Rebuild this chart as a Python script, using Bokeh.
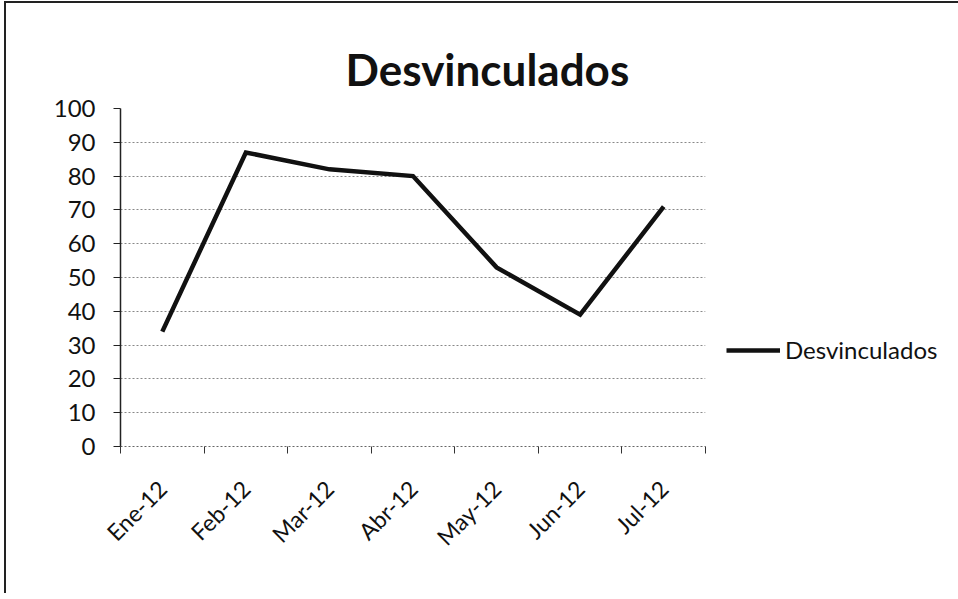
import math
from bokeh.plotting import figure
from bokeh.models import (Range1d, FixedTicker, CustomJSTickFormatter,
                          Legend, LegendItem, Title, ColumnDataSource)
from bokeh.embed import file_html
from bokeh.resources import INLINE

months = ["Ene-12", "Feb-12", "Mar-12", "Abr-12", "May-12", "Jun-12", "Jul-12"]
desvinculados = [34, 87, 82, 80, 53, 39, 71]
series_name = "Desvinculados"
y_ticks = list(range(0, 101, 10))

xs = [i + 0.5 for i in range(len(months))]
src = ColumnDataSource(dict(x=xs, y=desvinculados, m=months))

p = figure(frame_width=585, frame_height=338, output_backend="svg", toolbar_location=None,
           x_range=Range1d(0, len(months)), y_range=Range1d(0, 100),
           min_border_left=114, min_border_right=0, min_border_top=105, min_border_bottom=147)
p.title = None
p.outline_line_color = None
p.background_fill_color = "white"
p.border_fill_color = "white"
p.styles = {"border-left": "2px solid #222", "border-top": "2px solid #222",
            "margin-left": "4px", "margin-top": "1px"}

t = Title(text="Desvinculados", align="left", offset=225, text_font="Lato",
          text_font_size="44px", text_font_style="bold", text_color="#111", standoff=28)
p.add_layout(t, "above")

r = p.line("x", "y", source=src, line_color="#111", line_width=4.5, line_join="miter")

# y axis
p.yaxis.ticker = FixedTicker(ticks=y_ticks)
p.yaxis.major_label_text_font = "Lato"
p.yaxis.major_label_text_font_size = "24px"
p.yaxis.major_label_text_color = "#111"
p.yaxis.axis_line_color = "#222"
p.yaxis.axis_line_width = 1.5
p.yaxis.major_tick_line_color = "#222"
p.yaxis.major_tick_out = 7
p.yaxis.major_tick_in = 0
p.yaxis.minor_tick_line_color = None
p.yaxis.major_label_standoff = 18

# x axis
p.xaxis.ticker = FixedTicker(ticks=xs, minor_ticks=list(range(len(months) + 1)))
p.xaxis.formatter = CustomJSTickFormatter(args=dict(labels=months),
                                          code="return labels[Math.round(tick - 0.5)] || '';")
p.xaxis.major_label_orientation = math.pi / 4
p.xaxis.major_label_text_font = "Lato"
p.xaxis.major_label_text_font_size = "23px"
p.xaxis.major_label_text_color = "#111"
p.xaxis.major_tick_line_color = None
p.xaxis.minor_tick_line_color = "#333"
p.xaxis.minor_tick_out = 7
p.xaxis.minor_tick_in = 0
p.xaxis.axis_line_color = "#666"
p.xaxis.axis_line_dash = "2 2"
p.xaxis.major_label_standoff = 31

p.xgrid.grid_line_color = None
p.ygrid.ticker = FixedTicker(ticks=y_ticks)
p.ygrid.grid_line_color = "#888"
p.ygrid.grid_line_dash = "2 2"
p.ygrid.grid_line_width = 1

legend = Legend(items=[LegendItem(label=series_name, renderers=[r])],
                location=(21, 82), padding=0, margin=0, spacing=0,
                glyph_width=54, glyph_height=24, label_height=24, label_standoff=5,
                label_text_font="Lato", label_text_font_size="24px", label_text_color="#111",
                border_line_color=None, background_fill_alpha=0)
p.add_layout(legend, "right")

open("out.html", "w").write(file_html(p, INLINE))
